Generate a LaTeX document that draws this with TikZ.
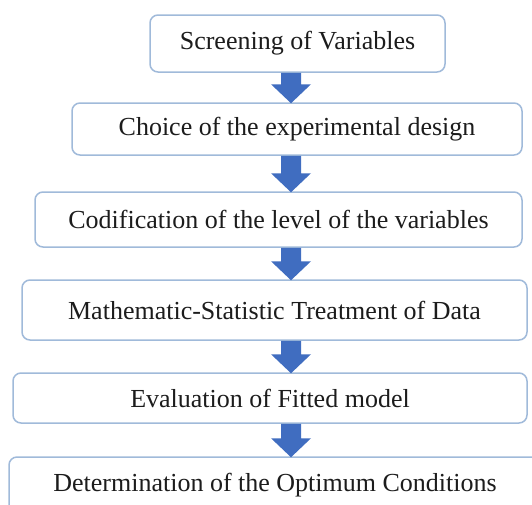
\documentclass[tikz,border=0pt]{standalone}
\usepackage{fontspec}
\setmainfont{Liberation Serif}
\usetikzlibrary{calc}
\definecolor{boxline}{RGB}{160,186,218}
\definecolor{arrowblue}{RGB}{64,109,192}
\definecolor{txt}{RGB}{28,28,28}
\tikzset{
  stepbox/.style={draw=boxline, line width=1.5pt, rounded corners=8pt, fill=white,
    text=txt, font=\fontsize{26}{30}\selectfont, inner sep=0pt, anchor=center},
}
\newcommand\flowarrow[2]{%
  \fill[arrowblue] ($(#1.south -| ax)+(-10,0)$) -- ($(#1.south -| ax)+(10,0)$)
    -- ($(#2.north -| ax)+(10,-18)$) -- ($(#2.north -| ax)+(20,-18)$)
    -- ($(#2.north -| ax)+(0,1)$) -- ($(#2.north -| ax)+(-20,-18)$)
    -- ($(#2.north -| ax)+(-10,-18)$) -- cycle;}
\begin{document}
\begin{tikzpicture}[x=1pt,y=-1pt]
\useasboundingbox (0,0) rectangle (532,504);
\clip (0,0) rectangle (532,504);
\fill[white] (0,0) rectangle (532,504);
\coordinate (ax) at (291,0);
\node[stepbox, minimum width=295pt, minimum height=57pt] (b1) at (297.5,43.5) {Screening of Variables};
\node[stepbox, minimum width=450pt, minimum height=52pt] (b2) at (297,129) {Choice of the experimental design};
\node[stepbox, minimum width=487pt, minimum height=55pt] (b3) at (278.5,219.5) {Codification of the level of the variables};
\node[stepbox, minimum width=505pt, minimum height=60pt] (b4) at (274.5,310) {Mathematic-Statistic Treatment of Data};
\node[stepbox, minimum width=514pt, minimum height=50pt] (b5) at (270,398) {Evaluation of Fitted model};
\node[stepbox, minimum width=532pt, minimum height=56pt] (b6) at (275,485) {Determination of the Optimum Conditions};
\flowarrow{b1}{b2}
\flowarrow{b2}{b3}
\flowarrow{b3}{b4}
\flowarrow{b4}{b5}
\flowarrow{b5}{b6}
\end{tikzpicture}
\end{document}
